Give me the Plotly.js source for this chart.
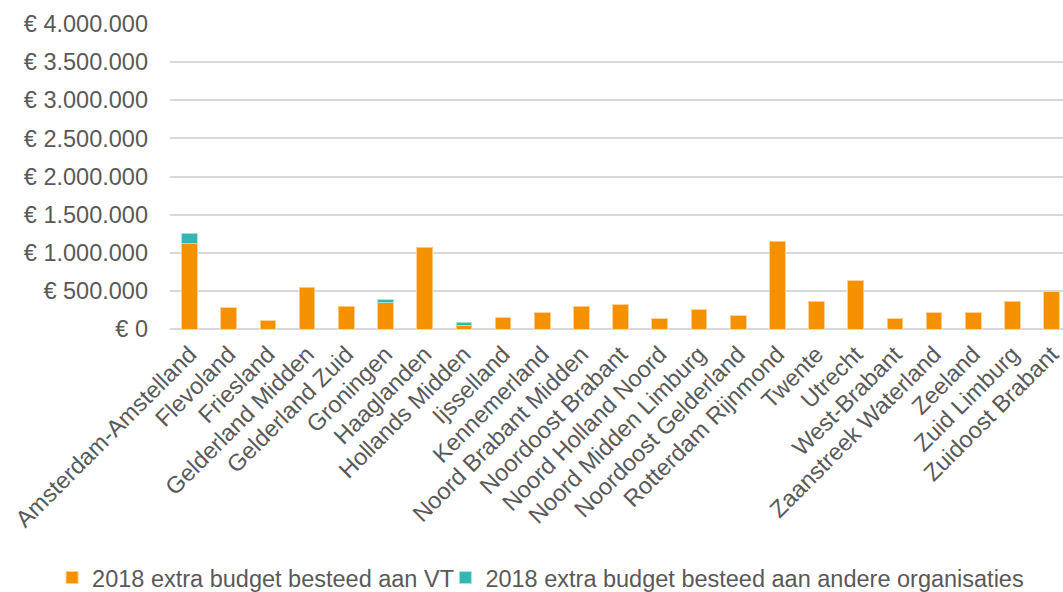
<!DOCTYPE html>
<html>
<head>
<meta charset="utf-8">
<script src="https://cdn.plot.ly/plotly-3.0.1.min.js"></script>
<style>html,body{margin:0;padding:0;background:#fff;overflow:hidden}#chart{width:1063px;height:592px}</style>
</head>
<body>
<div id="chart"></div>
<script>
const categories = ["Amsterdam-Amstelland","Flevoland","Friesland","Gelderland Midden","Gelderland Zuid","Groningen","Haaglanden","Hollands Midden","Ijsselland","Kennemerland","Noord Brabant Midden","Noordoost Brabant","Noord Holland Noord","Noord Midden Limburg","Noordoost Gelderland","Rotterdam Rijnmond","Twente","Utrecht","West-Brabant","Zaanstreek Waterland","Zeeland","Zuid Limburg","Zuidoost Brabant"];
const vtValues = [1115000,277000,111000,547000,298000,347000,1071000,46000,150000,216000,298000,321000,134000,255000,173000,1154000,364000,635000,137000,216000,216000,364000,491000];
const otherValues = [144000,0,0,0,0,35000,0,40000,0,0,0,0,0,0,0,0,0,0,0,0,0,0,0];
const seriesNames = ["2018 extra budget besteed aan VT","2018 extra budget besteed aan andere organisaties"];
const tickVals = [0,500000,1000000,1500000,2000000,2500000,3000000,3500000,4000000];
const tickText = ["€ 0","€ 500.000","€ 1.000.000","€ 1.500.000","€ 2.000.000","€ 2.500.000","€ 3.000.000","€ 3.500.000","€ 4.000.000"];

const font = {family: "Liberation Sans, Arial, sans-serif", size: 23.5, color: "#595959"};
const idx = categories.map((c, i) => i);
const traces = [
  {type: "bar", x: idx, y: vtValues, name: seriesNames[0], legend: "legend",
   marker: {color: "#F59100", line: {color: "rgba(255,205,140,0.9)", width: 1}}, hoverinfo: "skip"},
  {type: "bar", x: idx, y: otherValues.map(v => v > 0 ? v : null), name: seriesNames[1], legend: "legend2",
   marker: {color: "#33B6B1", line: {color: "rgba(170,225,222,0.9)", width: 1}}, hoverinfo: "skip"}
];
const legendBase = {orientation: "h", xref: "container", yref: "container", y: 0.024, xanchor: "left", yanchor: "middle",
                    font: font, itemwidth: 30, bgcolor: "rgba(0,0,0,0)"};
const layout = {
  width: 1063, height: 592,
  margin: {l: 170, r: 0, t: 24, b: 262.5},
  barmode: "stack", bargap: 0.6,
  paper_bgcolor: "#fff", plot_bgcolor: "#fff",
  font: font,
  showlegend: true,
  legend: Object.assign({}, legendBase, {x: 0.049}),
  legend2: Object.assign({}, legendBase, {x: 0.419}),
  xaxis: {range: [-0.5, 22.29], tickmode: "array", tickvals: idx, ticktext: categories, tickangle: -45,
          showgrid: false, zeroline: false, showline: false, ticks: "", tickfont: font, fixedrange: true,
          ticklabeloverflow: "allow", ticklabelstandoff: 6},
  yaxis: {range: [0, 4000000], tickmode: "array", tickvals: tickVals, ticktext: tickText,
          showgrid: true, gridcolor: "#D9D9D9", gridwidth: 2, zeroline: true, zerolinecolor: "#D9D9D9", zerolinewidth: 2,
          showline: false, ticks: "", tickfont: font, ticklabelstandoff: 21, fixedrange: true}
};
Plotly.newPlot("chart", traces, layout, {displayModeBar: false, staticPlot: true});
</script>
</body>
</html>
